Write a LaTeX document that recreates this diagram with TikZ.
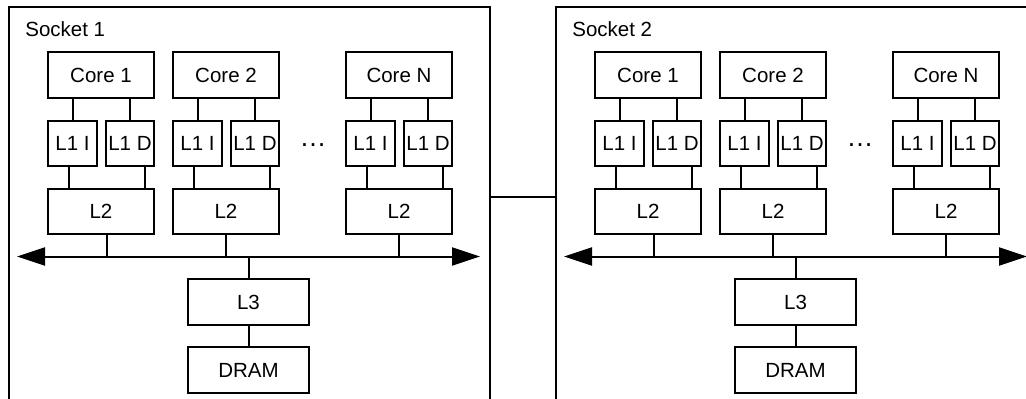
\documentclass[tikz,border=0pt]{standalone}
\usepackage{fontspec}
\setmainfont{Liberation Sans}
\usetikzlibrary{arrows.meta,calc}
\begin{document}
\begin{tikzpicture}[x=1pt,y=-1pt,
  line width=2pt,
  font=\fontsize{20.5}{24}\selectfont,
  box/.style={draw, rectangle, inner sep=0pt, minimum width=106pt, minimum height=46pt},
  lone/.style={box, minimum width=48.5pt, minimum height=45pt},
  ltwo/.style={box, minimum height=45pt},
  mem/.style={box, minimum width=121pt},
  sockbox/.style={draw, rectangle, inner sep=0pt, minimum width=481pt, minimum height=440pt},
  bus/.style={arrows={Triangle[length=28pt,width=18pt]-Triangle[length=28pt,width=18pt]}}]
\useasboundingbox (0,0) rectangle (1026,399);
\clip (0,0) rectangle (1026,399);
\coordinate (lk) at (0,197);
\foreach \s/\dx in {1/0,2/547} {
  % socket frame (its lower edge lies below the visible area)
  \node[sockbox] (sock\s) at (249.5+\dx,227) {};
  \node[anchor=base west] (stitle\s) at (21+\dx,36) {Socket \s};
  % cores with their private caches
  \foreach \c/\x/\lab/\off in {a/48/1/6, b/173/2/0, n/346/N/0} {
    \node[box] (core\s\c) at (\x+53+\dx,75) {Core \lab};
    \node[lone] (li\s\c) at (\x+24.5+\dx,143.5) {L1 I};
    \node[lone] (ld\s\c) at (\x+82+\dx,143.5) {L1 D};
    \node[ltwo] (ltwo\s\c) at (\x+53+\dx,211.5) {L2};
    \draw (li\s\c.north) -- (li\s\c.north |- core\s\c.south);
    \draw (ld\s\c.north) -- (ld\s\c.north |- core\s\c.south);
    \coordinate (iout\s\c) at ($(li\s\c.south)+(-3.5,0)$);
    \coordinate (dout\s\c) at ($(ld\s\c.south)+(15,0)$);
    \draw (iout\s\c) -- (iout\s\c |- ltwo\s\c.north);
    \draw (dout\s\c) -- (dout\s\c |- ltwo\s\c.north);
    \coordinate (tap\s\c) at ($(ltwo\s\c.south)+(\off,0)$);
  }
  \node[inner sep=0pt, font=\fontsize{27}{30}\selectfont] (dots\s) at (313+\dx,145) {…};
  % shared bus, L3 and memory
  \coordinate (busl\s) at (17+\dx,256.5);
  \coordinate (busr\s) at (480+\dx,256.5);
  \draw[bus] (busl\s) -- (busr\s);
  \foreach \c in {a,b,n} {
    \draw (tap\s\c) -- (tap\s\c |- busl\s);
  }
  \node[mem] (lthree\s) at (248.5+\dx,302) {L3};
  \node[mem] (dram\s) at (248.5+\dx,370) {DRAM};
  \draw (lthree\s.north) -- (lthree\s.north |- busl\s);
  \draw (lthree\s) -- (dram\s);
}
% link between the two sockets
\draw (sock1.east |- lk) -- (sock2.west |- lk);
\end{tikzpicture}
\end{document}
